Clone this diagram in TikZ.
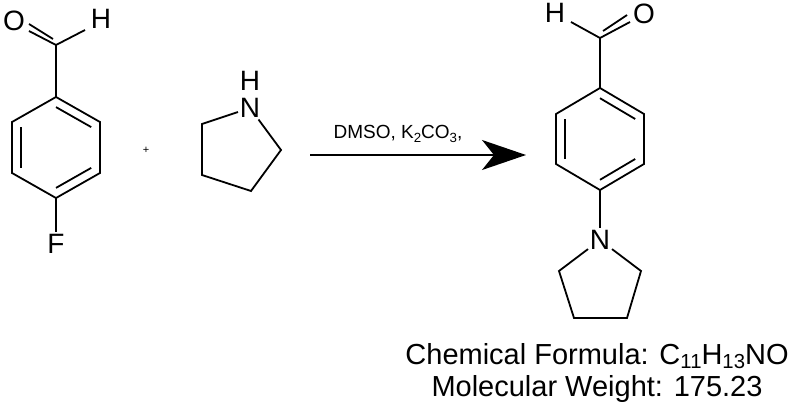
\documentclass[tikz,border=0pt]{standalone}
\usepackage{fontspec}
\setmainfont{Liberation Sans}
\usetikzlibrary{calc,arrows.meta}
\newcommand{\sbs}[1]{\raisebox{-0.3ex}{\scalebox{0.7}{#1}}}
\begin{document}
\begin{tikzpicture}[x=1pt,y=-1pt,line width=1.8pt,
  atom/.style={inner sep=1pt,font=\fontsize{28}{28}\selectfont},
  bond/.style={line width=1.8pt},
  txt/.style={font=\fontsize{29}{32}\selectfont}]
\useasboundingbox (0,0) rectangle (793,412);
% ---- left: 4-fluorobenzaldehyde
\node[atom] (O1) at (14,21) {O};
\node[atom] (H1) at (101,19) {H};
\node[atom] (F1) at (56,244) {F};
\coordinate (c1) at (56,45);
\coordinate (a1) at (56,97); \coordinate (a2) at (100,122); \coordinate (a3) at (100,173);
\coordinate (a4) at (56,198); \coordinate (a5) at (12,173); \coordinate (a6) at (12,122);
\coordinate (m1) at (56,147.5);
\draw[bond] (a1)--(a2)--(a3)--(a4)--(a5)--(a6)--cycle;
\draw[bond] ($(m1)!0.8!(a1)$)--($(m1)!0.8!(a2)$);
\draw[bond] ($(m1)!0.8!(a3)$)--($(m1)!0.8!(a4)$);
\draw[bond] ($(m1)!0.8!(a5)$)--($(m1)!0.8!(a6)$);
\draw[bond] (a1)--(c1);
\draw[bond] (c1)--(85,30);
\draw[bond] (c1)--(29,31);
\draw[bond] ($(c1)+(-3,-6)$)--(29,24);
\draw[bond] (a4)--(F1);
% plus
\node[inner sep=0pt,font=\fontsize{11}{11}\selectfont] (plus) at (146,150) {+};
% ---- pyrrolidine
\node[atom] (N1) at (250,108) {N};
\node[atom] (HN) at (250,81) {H};
\coordinate (p1) at (202,124); \coordinate (p2) at (202,175);
\coordinate (p3) at (251,191); \coordinate (p4) at (281,150);
\draw[bond] (N1)--(p1)--(p2)--(p3)--(p4)--(N1);
% ---- arrow
\coordinate (ar1) at (310,155);
\coordinate (ar2) at (526,155);
\draw[line width=1.8pt,-{Stealth[length=44pt,width=30pt,inset=12pt]}] (ar1)--(ar2);
\node[font=\fontsize{19}{19}\selectfont,anchor=base] (cond) at (398,139) {DMSO, K\sbs{2}CO\sbs{3},};
% ---- product
\node[atom] (H2) at (555,13) {H};
\node[atom] (O2) at (644,14) {O};
\coordinate (c2) at (600,38);
\coordinate (b1) at (600,88); \coordinate (b2) at (644,114); \coordinate (b3) at (644,164);
\coordinate (b4) at (600,190); \coordinate (b5) at (556,164); \coordinate (b6) at (556,114);
\coordinate (m2) at (600,139);
\draw[bond] (b1)--(b2)--(b3)--(b4)--(b5)--(b6)--cycle;
\draw[bond] ($(m2)!0.8!(b1)$)--($(m2)!0.8!(b2)$);
\draw[bond] ($(m2)!0.8!(b3)$)--($(m2)!0.8!(b4)$);
\draw[bond] ($(m2)!0.8!(b5)$)--($(m2)!0.8!(b6)$);
\draw[bond] (b1)--(c2);
\draw[bond] (c2)--(571,22);
\draw[bond] (c2)--(630,22);
\draw[bond] ($(c2)+(3,-7)$)--(627,15);
\node[atom] (N2) at (600,240) {N};
\draw[bond] (b4)--(N2);
\coordinate (q1) at (559,271); \coordinate (q2) at (574,318);
\coordinate (q3) at (627,318); \coordinate (q4) at (641,271);
\draw[bond] (N2)--(q1)--(q2)--(q3)--(q4)--(N2);
\node[txt] (f1) at (597,356) {Chemical Formula: C\sbs{11}H\sbs{13}NO};
\node[txt] (f2) at (597,389) {Molecular Weight: 175.23};
\end{tikzpicture}
\end{document}
